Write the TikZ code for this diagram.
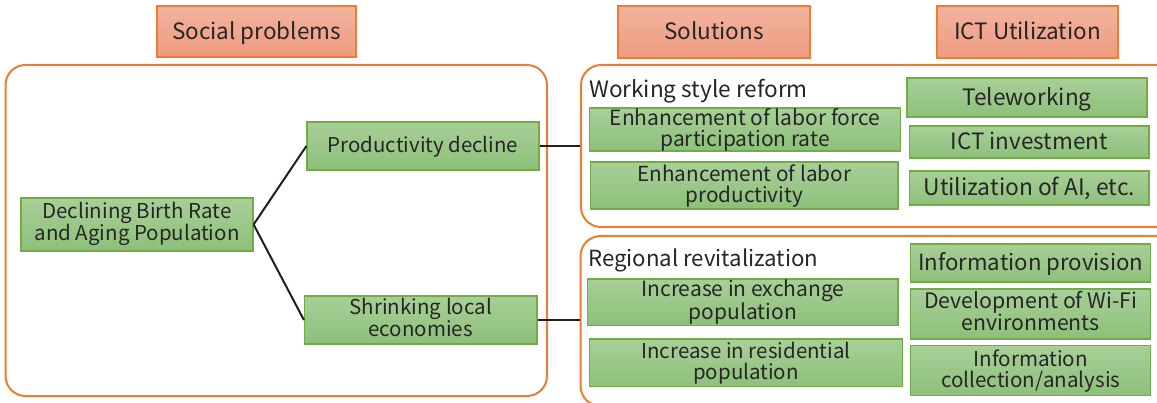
\documentclass[tikz,border=0pt]{standalone}
\usepackage{fontspec}
\setmainfont{Noto Sans CJK JP}
\definecolor{orng}{HTML}{ED7D31}
\definecolor{salT}{HTML}{F2B39F}
\definecolor{salB}{HTML}{EE9B7F}
\definecolor{grnT}{HTML}{A8CF98}
\definecolor{grnB}{HTML}{8DC07A}
\definecolor{grnE}{HTML}{70AD47}
\definecolor{txt}{HTML}{262626}
\newcommand{\fs}[1]{\fontsize{#1}{21}\selectfont}
\tikzset{
  sz/.style={font=\fs{#1}, text height={#1*0.73pt}, text depth={#1*0.06pt}},
  szz/.style={font=\fs{#1}, text height={21pt+#1*0.73pt}, text depth={#1*0.12pt}},
  hdr/.style={draw=orng, line width=1.5pt, top color=salT, bottom color=salB,
    inner sep=0pt, text=txt, sz=22.5, text depth=0.7pt},
  gbox/.style={draw=grnE, line width=1.2pt, top color=grnT, bottom color=grnB,
    inner sep=0pt, align=center, text=txt, sz=21},
  frame/.style={draw=orng, line width=2pt, rounded corners=20pt},
  lbl/.style={anchor=west, inner sep=0pt, text=txt, sz=22.6, text depth=0pt},
  conn/.style={line width=2pt, draw=black!88}
}
\begin{document}
\begin{tikzpicture}[x=1pt,y=-1pt]
\useasboundingbox (0,0) rectangle (1157,403);
\clip (0,0) rectangle (1157,403);
% headers
\node[hdr, minimum width=199pt, minimum height=51pt] (hsoc) at (256.5,31.5) {Social problems};
\node[hdr, minimum width=192pt, minimum height=52pt] (hsol) at (714,32) {Solutions};
\node[hdr, minimum width=181pt, minimum height=52pt] (hict) at (1027.5,32) {ICT Utilization};
% frames
\node[frame, minimum width=541.5pt, minimum height=331pt, inner sep=0pt] (fl) at (276.25,230.5) {};
\node[frame, minimum width=600pt, minimum height=162pt, inner sep=0pt] (ft) at (881,146) {};
\node[frame, minimum width=600pt, minimum height=170pt, inner sep=0pt] (fb) at (880.5,321) {};
% left
\node[gbox, szz=20.5, font=\fontsize{20.5}{20}\selectfont, text height=35pt, minimum width=232pt, minimum height=53pt] (birth) at (137,224.5) {Declining Birth Rate\\and Aging Population};
\node[gbox, sz=20.4, minimum width=232pt, minimum height=48pt] (prod) at (423,146) {Productivity decline};
\node[gbox, szz=20.5, minimum width=232.5pt, minimum height=48pt] (shrink) at (420.75,320) {Shrinking local\\economies};
% top right
\node[lbl] (wsr) at (589,89) {Working style reform};
\node[gbox, szz=21, minimum width=311pt, minimum height=43pt] (e1) at (745,129.5) {Enhancement of labor force\\participation rate};
\node[gbox, szz=20.7, minimum width=307.5pt, minimum height=47pt] (e2) at (744.25,185.5) {Enhancement of labor\\productivity};
\node[gbox, sz=22.6, minimum width=240pt, minimum height=39pt] (tele) at (1027,97.5) {Teleworking};
\node[gbox, sz=22.5, minimum width=239.4pt, minimum height=32pt] (inv) at (1029.3,142) {ICT investment};
\node[gbox, sz=22.8, minimum width=239.4pt, minimum height=34pt] (ai) at (1029.3,188) {Utilization of AI, etc.};
% bottom right
\node[lbl, sz=22.2, text depth=0pt] (rr) at (588,258) {Regional revitalization};
\node[gbox, szz=21, minimum width=310.4pt, minimum height=46.7pt] (i1) at (742.8,302.35) {Increase in exchange\\population};
\node[gbox, szz=20.5, minimum width=313pt, minimum height=47.7pt] (i2) at (746,362.85) {Increase in residential\\population};
\node[gbox, sz=22.2, minimum width=240pt, minimum height=38pt] (ip) at (1030.7,263) {Information provision};
\node[gbox, szz=21.3, minimum width=240pt, minimum height=50pt] (wifi) at (1030.7,314) {Development of Wi-Fi\\environments};
\node[gbox, szz=20.6, minimum width=240pt, minimum height=50pt] (icol) at (1030.7,370.7) {Information\\collection/analysis};
% connectors
\draw[conn] (birth.east) -- (prod.west);
\draw[conn] (birth.east) -- (shrink.west);
\draw[conn] (prod.east) -- (prod.east -| ft.west);
\draw[conn] (shrink.east) -- (shrink.east -| fb.west);
\end{tikzpicture}
\end{document}
